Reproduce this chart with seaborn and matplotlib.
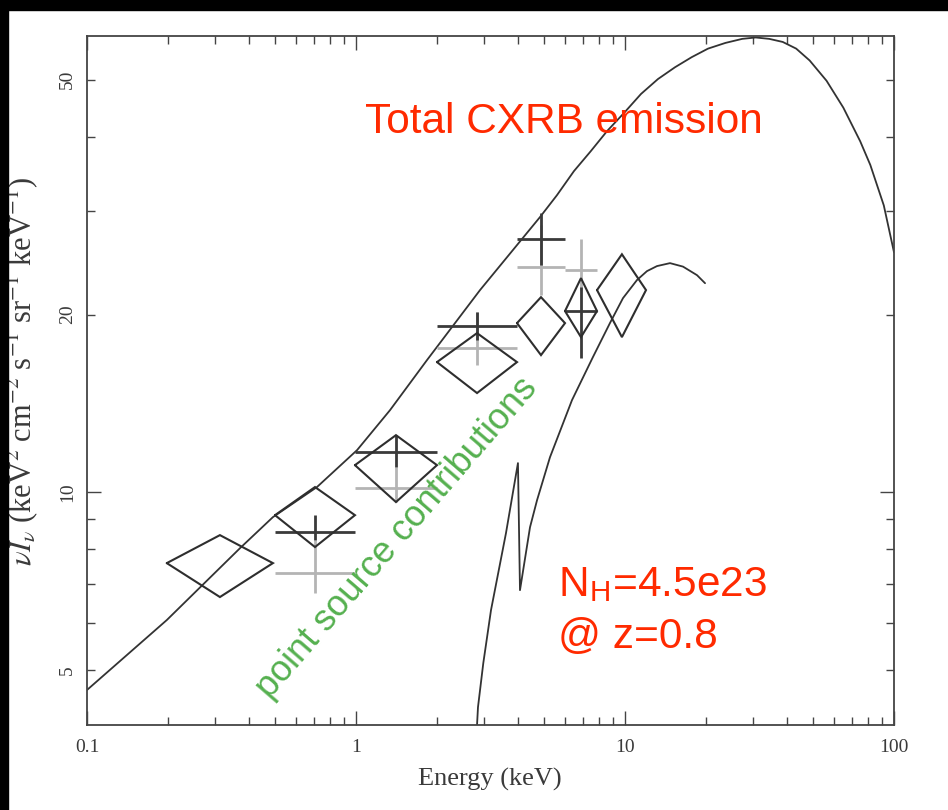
import numpy as np
import pandas as pd
import matplotlib
matplotlib.use("Agg")
import matplotlib.pyplot as plt
import seaborn as sns
from matplotlib.ticker import FixedLocator, FixedFormatter
from matplotlib.patches import Rectangle

# ---------------- data ----------------
# Total CXRB model curve
total_E = [0.1, 0.198, 0.371, 0.491, 0.716, 1.009, 1.338, 1.836, 2.891, 4.83,
           5.582, 6.46, 7.449, 8.57, 9.94, 11.47, 13.26, 15.35, 17.70, 20.35,
           23.62, 27.28, 30.6, 34.37, 38.58, 43.29, 48.57, 56.13, 64.8, 74.88,
           81.65, 91.65, 100]
total_v = [4.62, 6.07, 8.04, 9.07, 10.2, 11.78, 13.77, 16.74, 22.0, 29.25,
           31.85, 35.0, 37.8, 40.9, 43.97, 47.3, 50.13, 52.5, 54.6, 56.45,
           57.72, 58.64, 58.96, 58.64, 57.94, 56.45, 53.9, 49.8, 44.84, 39.32,
           35.85, 30.61, 25.5]

# Absorbed source (NH = 4.5e23 @ z = 0.8)
abs_E = [2.818, 2.841, 2.973, 3.176, 3.61, 4.00, 4.07, 4.435, 4.71, 5.262,
         6.353, 7.60, 8.79, 9.83, 11.08, 12.07, 13.15, 14.7, 16.43, 18.52, 19.84]
abs_v = [4.03, 4.32, 5.13, 6.31, 8.52, 11.2, 6.82, 8.72, 9.69, 11.46,
         14.32, 16.94, 19.34, 21.32, 22.88, 23.69, 24.16, 24.44, 24.11, 23.32, 22.6]

# Diamond data points (centre, energy range, flux range)
dia_E = [0.312, 0.704, 1.408, 2.818, 4.872, 6.86, 9.74]
dia_Elo = [0.198, 0.500, 0.991, 2.0, 3.967, 5.984, 7.87]
dia_Ehi = [0.491, 0.991, 2.0, 3.967, 5.984, 7.87, 11.97]
dia_v = [7.58, 9.14, 11.11, 16.61, 19.34, 20.27, 22.0]
dia_vlo = [6.64, 8.07, 9.62, 14.72, 17.07, 18.31, 18.31]
dia_vhi = [8.455, 10.2, 12.49, 18.6, 21.4, 23.05, 25.3]

# Dark crosses
dk_E = [0.704, 1.408, 2.818, 4.872, 6.86]
dk_Elo = [0.500, 0.991, 2.0, 3.967, 5.984]
dk_Ehi = [0.991, 2.0, 3.967, 5.984, 7.87]
dk_v = [8.55, 11.69, 19.11, 26.85, 20.27]
dk_vlo = [8.29, 11.02, 18.1, 24.25, 16.87]
dk_vhi = [9.14, 12.49, 20.18, 29.7, 22.26]

# Light crosses
lt_E = [0.704, 1.408, 2.818, 4.872, 6.86]
lt_Elo = [0.500, 0.991, 2.0, 3.967, 5.984]
lt_Ehi = [0.991, 2.0, 3.967, 5.984, 7.87]
lt_v = [7.29, 10.16, 17.54, 24.06, 23.8]
lt_vlo = [6.74, 9.62, 16.42, 21.58, 22.0]
lt_vhi = [8.29, 11.02, 20.18, 28.4, 26.85]

x_major = [0.1, 1, 10, 100]
x_major_labels = ["0.1", "1", "10", "100"]
y_major = [10]
y_minor = [5, 6, 7, 8, 9, 20, 30, 40, 50]
y_minor_labels = ["5", "", "", "", "", "20", "", "", "50"]

# ---------------- styling ----------------
sns.set_theme(style="white")
plt.rcParams["font.family"] = ["Liberation Serif", "DejaVu Serif"]
plt.rcParams["mathtext.fontset"] = "stix"

W, H = 948, 810
fig = plt.figure(figsize=(W / 100, H / 100), dpi=100)
fig.patch.set_facecolor("white")
ax = fig.add_axes([87 / W, 85 / H, 807 / W, 689 / H])
ax.set_facecolor("white")

line_col = "#333333"
df_total = pd.DataFrame({"E": total_E, "v": total_v})
df_abs = pd.DataFrame({"E": abs_E, "v": abs_v})
sns.lineplot(data=df_total, x="E", y="v", sort=False, estimator=None,
             color=line_col, lw=1.3, ax=ax)
sns.lineplot(data=df_abs, x="E", y="v", sort=False, estimator=None,
             color=line_col, lw=1.3, ax=ax)

# light crosses
ax.hlines(lt_v, lt_Elo, lt_Ehi, color="#b4b4b4", lw=2.0, zorder=3)
ax.vlines(lt_E, lt_vlo, lt_vhi, color="#b4b4b4", lw=2.0, zorder=3)
# dark crosses
ax.hlines(dk_v, dk_Elo, dk_Ehi, color="#3a3a3a", lw=2.0, zorder=4)
ax.vlines(dk_E, dk_vlo, dk_vhi, color="#3a3a3a", lw=2.0, zorder=4)

# diamonds
for E, lo, hi, v, vlo, vhi in zip(dia_E, dia_Elo, dia_Ehi, dia_v, dia_vlo, dia_vhi):
    ax.plot([lo, E, hi, E, lo], [v, vhi, v, vlo, v], color="#2e2e2e",
            lw=1.5, zorder=5, solid_joinstyle="miter")

ax.set_xscale("log")
ax.set_yscale("log")
ax.set_xlim(0.1, 100)
ax.set_ylim(4.03, 59.3)
ax.set_xlabel("")
ax.set_ylabel("")

ax.xaxis.set_major_locator(FixedLocator(x_major))
ax.xaxis.set_major_formatter(FixedFormatter(x_major_labels))
ax.yaxis.set_major_locator(FixedLocator(y_major))
ax.yaxis.set_major_formatter(FixedFormatter(["10"]))
ax.yaxis.set_minor_locator(FixedLocator(y_minor))
ax.yaxis.set_minor_formatter(FixedFormatter(y_minor_labels))

ax.tick_params(which="both", direction="in", top=True, right=True,
               bottom=True, left=True,
               color="#444444", width=1.0, labelcolor="#3a3a3a")
ax.tick_params(which="major", length=10, labelsize=14)
ax.tick_params(which="minor", length=5.5, labelsize=14)
ax.tick_params(axis="x", which="major", pad=10)
ax.tick_params(axis="y", which="both", pad=8)
for lab in ax.get_yticklabels(which="both"):
    lab.set_rotation(90)
    lab.set_va("center")
for sp in ax.spines.values():
    sp.set_color("#444444")
    sp.set_linewidth(1.3)

# axis titles
fig.text(490 / W, 1 - 779 / H, "Energy (keV)", ha="center", va="center",
         fontsize=19, color="#3a3a3a")
fig.text(22 / W, 1 - 371 / H,
         r"$\nu I_\nu$ (keV$^2$ cm$^{-2}$ s$^{-1}$ sr$^{-1}$ keV$^{-1}$)",
         rotation=90, ha="center", va="center", fontsize=22, color="#3a3a3a")

# annotations
red = "#ff2a00"
fig.text(365 / W, 1 - 133 / H, "Total CXRB emission", ha="left", va="baseline",
         fontsize=30.5, color=red, family="Liberation Sans")
fig.text(558 / W, 1 - 596 / H, r"N$_{\mathregular{H}}$=4.5e23", ha="left",
         va="baseline", fontsize=30.5, color=red, family="Liberation Sans")
fig.text(558 / W, 1 - 648 / H, "@ z=0.8", ha="left", va="baseline",
         fontsize=30.5, color=red, family="Liberation Sans")
fig.text(270 / W, 1 - 700 / H, "point source contributions", rotation=49.2,
         rotation_mode="anchor", ha="left", va="baseline", fontsize=26,
         color="#55b04f", family="Liberation Sans")

# black borders of the screenshot
fig.add_artist(Rectangle((0, 1 - 10 / H), 1, 10 / H, transform=fig.transFigure,
                         color="black", zorder=100))
fig.add_artist(Rectangle((0, 0), 8 / W, 1, transform=fig.transFigure,
                         color="black", zorder=100))

fig.savefig("out.png", dpi=100)
